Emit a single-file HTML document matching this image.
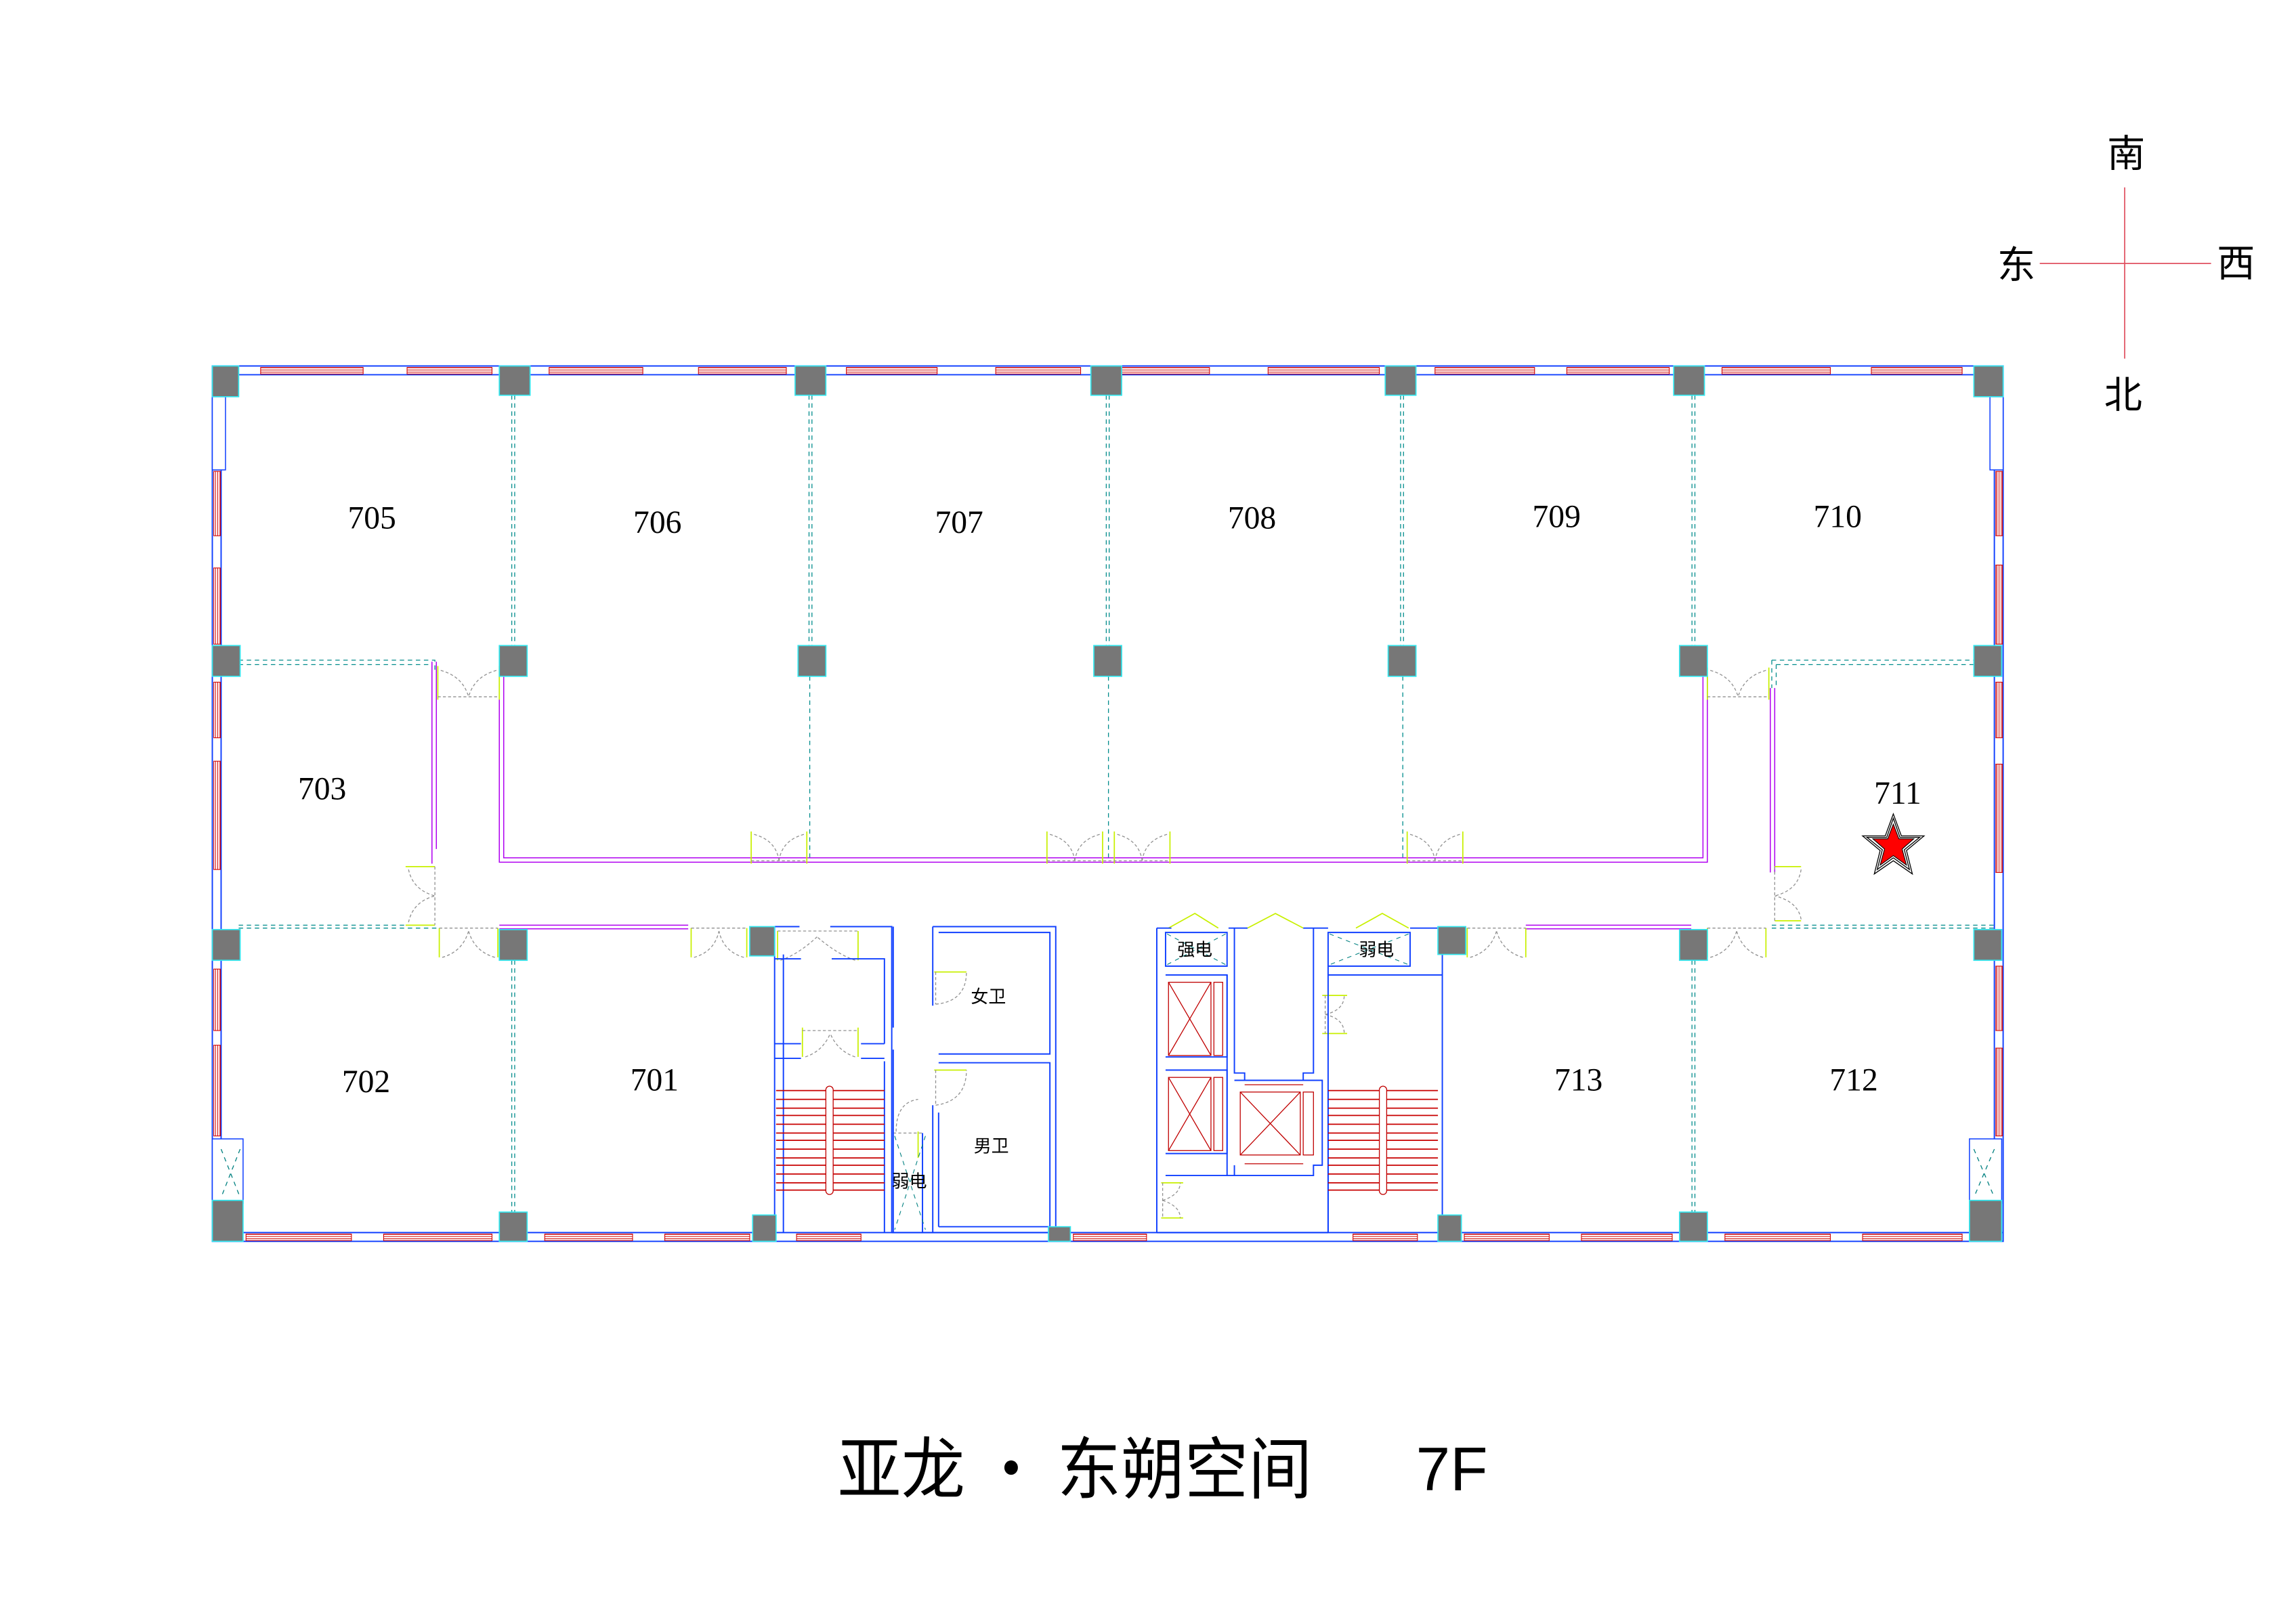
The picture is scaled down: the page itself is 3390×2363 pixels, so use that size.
<!DOCTYPE html>
<html><head><meta charset="utf-8"><style>
html,body{margin:0;padding:0;background:#fff;}
svg{display:block;}
</style></head><body>
<svg xmlns="http://www.w3.org/2000/svg" width="3390" height="2363" viewBox="0 0 1568 1093" preserveAspectRatio="none">
<rect width="1568" height="1093" fill="#fff"/>
<defs>
<pattern id="wh" width="4" height="1.5" patternUnits="userSpaceOnUse" y="251"><rect width="4" height="0.45" fill="#d00000"/></pattern>
<pattern id="wb" width="4" height="1.5" patternUnits="userSpaceOnUse" y="843"><rect width="4" height="0.45" fill="#d00000"/></pattern>
<pattern id="wv" width="1.5" height="4" patternUnits="userSpaceOnUse"><rect width="0.45" height="4" fill="#d00000"/></pattern>
</defs>
<!-- compass -->
<g stroke="#e05060" stroke-width="0.8">
<line x1="1451" y1="128" x2="1451" y2="245"/><line x1="1393" y1="180" x2="1510" y2="180"/>
</g>
<g font-family="'Noto Sans CJK SC',sans-serif" font-size="26" text-anchor="middle" fill="#000">
<text x="1452" y="114">南</text><text x="1377" y="190">东</text><text x="1527" y="189">西</text><text x="1450" y="279">北</text>
</g>
<!-- outer walls -->
<g fill="none" stroke="#1040ff" stroke-width="0.9">
<rect x="145" y="250" width="1223" height="598"/>
<line x1="145" y1="256" x2="1368" y2="256"/>
<line x1="145" y1="842" x2="1368" y2="842"/>
<line x1="151" y1="250" x2="151" y2="848"/>
<line x1="1362" y1="250" x2="1362" y2="848"/>
</g>
<!-- windows -->
<g fill="url(#wh)" stroke="#d00000" stroke-width="0.5">
<rect x="178" y="251" width="70" height="4.5"/><rect x="278" y="251" width="58" height="4.5"/>
<rect x="375" y="251" width="64" height="4.5"/><rect x="477" y="251" width="60" height="4.5"/>
<rect x="578" y="251" width="62" height="4.5"/><rect x="680" y="251" width="58" height="4.5"/>
<rect x="766" y="251" width="60" height="4.5"/><rect x="866" y="251" width="76" height="4.5"/>
<rect x="980" y="251" width="68" height="4.5"/><rect x="1070" y="251" width="70" height="4.5"/>
<rect x="1176" y="251" width="74" height="4.5"/><rect x="1278" y="251" width="62" height="4.5"/>
</g>
<g fill="url(#wb)" stroke="#d00000" stroke-width="0.5">
<rect x="168" y="843" width="72" height="4.5"/><rect x="262" y="843" width="74" height="4.5"/>
<rect x="372" y="843" width="60" height="4.5"/><rect x="454" y="843" width="58" height="4.5"/>
<rect x="544" y="843" width="44" height="4.5"/><rect x="733" y="843" width="50" height="4.5"/>
<rect x="924" y="843" width="44" height="4.5"/><rect x="1000" y="843" width="58" height="4.5"/>
<rect x="1080" y="843" width="62" height="4.5"/><rect x="1178" y="843" width="72" height="4.5"/>
<rect x="1272" y="843" width="68" height="4.5"/>
</g>
<g fill="url(#wv)" stroke="#d00000" stroke-width="0.5">
<rect x="146" y="322" width="4.5" height="44"/><rect x="146" y="388" width="4.5" height="52"/>
<rect x="146" y="466" width="4.5" height="38"/><rect x="146" y="520" width="4.5" height="74"/>
<rect x="146" y="662" width="4.5" height="42"/><rect x="146" y="714" width="4.5" height="62"/>
<rect x="1363" y="322" width="4.5" height="44"/><rect x="1363" y="386" width="4.5" height="54"/>
<rect x="1363" y="466" width="4.5" height="38"/><rect x="1363" y="522" width="4.5" height="74"/>
<rect x="1363" y="660" width="4.5" height="44"/><rect x="1363" y="716" width="4.5" height="60"/>
</g>
<!-- pilaster/window niches -->
<g fill="#fff" stroke="#1040ff" stroke-width="0.7">
<rect x="145" y="271" width="9" height="50"/><rect x="1359" y="271" width="9" height="50"/>
<rect x="145" y="778" width="21" height="44"/><rect x="1345" y="778" width="22" height="44"/>
</g>
<g stroke="#008080" stroke-width="0.6" stroke-dasharray="3,3" fill="none">
<path d="M151 785 L164 818 M164 785 L151 818"/><path d="M1348 785 L1362 818 M1362 785 L1348 818"/>
</g>
<!-- dashed partition lines -->
<g stroke="#008c8c" stroke-width="0.6" stroke-dasharray="3,2.5" fill="none">
<path d="M349.5 270V441M351.5 270V441M552.5 270V441M554.5 270V441M755.5 270V441M757.5 270V441M956.5 270V441M958.5 270V441M1155.5 270V441M1157.5 270V441"/>
<path d="M349.5 656V828M351.5 656V828M1155.5 656V828M1157.5 656V828"/>
<path d="M553 462V588M757 462V588M958 462V588"/>
<path d="M163 451H297V460M163 454H294"/>
<path d="M163 632H296M163 634H298"/>
<path d="M1210 451H1348M1213 454H1348V456M1210 451V470M1213 454V470"/>
<path d="M1210 632H1362M1210 634H1362"/>
</g>
<!-- corridor magenta walls -->
<g stroke="#b000f0" stroke-width="0.7" fill="none">
<path d="M341 462V589H1166V462M344 462V586H1163V462"/>
<path d="M295 452V590M298 452V580"/>
<path d="M1209 470V596M1212 470V596"/>
<path d="M341 632H470M341 634.5H470M1042 632H1155M1042 634.5H1155"/>
</g>
<!-- doors -->
<g stroke="#c8f000" stroke-width="0.8" fill="none">
<path d="M299 455V478M341 455V478M1166 456V478M1208 456V478"/>
<path d="M513 568V590M551 568V590M715 568V590M753 568V590M761 568V590M799 568V590M961 568V590M999 568V590"/>
<path d="M277 592H297M277 632H297M1212 592H1230M1212 629H1230"/>
<path d="M300 634V654M340 634V654M472 634V654M510 634V654M1002 634V654M1042 634V654M1166 634V654M1206 634V654"/>
<path d="M531 636V656M586 636V656M548 702V722M586 702V722M638 664H660M638 731H660M627 773V791M903 680H920M903 706H920M793 808H808M793 832H808"/>
<path d="M798 634L816 624L832 634M852 634L871 624L890 634M926 634L944 624L962 634"/>
</g>
<g stroke="#909090" stroke-width="0.6" fill="none" stroke-dasharray="2,1.5">
<path d="M299 476H341M301 458Q316 462 320 476M339 458Q324 462 320 476"/>
<path d="M1166 476H1208M1168 458Q1183 462 1187 476M1206 458Q1191 462 1187 476"/>
<path d="M513 588H551M515 570Q530 574 532 588M549 570Q534 574 532 588"/>
<path d="M715 588H799M717 570Q732 574 734 588M751 570Q736 574 734 588M763 570Q778 574 780 588M797 570Q782 574 780 588"/>
<path d="M961 588H999M963 570Q978 574 980 588M997 570Q982 574 980 588"/>
<path d="M297 592V632M279 594Q282 608 297 612M279 630Q282 616 297 612"/>
<path d="M1212 592V630M1230 594Q1228 608 1212 612M1230 628Q1228 616 1212 612"/>
<path d="M300 634H340M302 654Q316 650 320 636M338 654Q324 650 320 636"/>
<path d="M472 634H510M474 654Q488 650 491 636M508 654Q494 650 491 636"/>
<path d="M1002 634H1042M1004 654Q1018 650 1022 636M1040 654Q1026 650 1022 636"/>
<path d="M1166 634H1206M1168 654Q1182 650 1186 636M1204 654Q1190 650 1186 636"/>
<path d="M531 636H586M533 656Q545 652 558 640M584 656Q572 652 558 640"/>
<path d="M548 704H586M550 722Q562 718 567 706M584 722Q572 718 567 706"/>
<path d="M639 664V686M639 686Q660 684 660 664M639 731V755M639 755Q660 752 660 731"/>
<path d="M610 774H630M612 773Q612 753 627 751"/>
<path d="M905 680V706M905 693Q918 690 918 680M905 693Q918 696 918 706"/>
<path d="M794 808V832M794 820Q806 816 806 808M794 820Q806 824 806 832"/>
</g>
<!-- cores -->
<g fill="none" stroke="#1040ff" stroke-width="0.9">
<path d="M529 633V842M535 652V842"/>
<path d="M529 633H546M567 633H609V842M568 655H604V713M604 725V842"/>
<path d="M529 655H547M529 713H547M529 723H547M588 713H604M588 723H604"/>
<path d="M610 633V702M610 717V842"/>
<path d="M637 633H721V842M637 633V687M637 755V842M641 637H717V720H641M641 726H717V838H641M641 760V838"/>
<path d="M609 842H721"/>
<path d="M630 774V842"/>
<path d="M790 634H800M839 634H852M890 634H907M963 634H985V842"/>
<path d="M790 634V842M796 637H838V660H796Z"/>
<path d="M796 666H838V722H796M796 731H838V788H796"/>
<path d="M790 842H907M907 842V648M907 637H963V660H907Z"/>
<path d="M843 634V733H850V738M890 738V733H897V634M843 738H903V796H897V803H843V796"/>
<path d="M838 666V803M796 803H843"/>
<path d="M907 666H985M907 745V842"/>
</g>
<g stroke="#c00000" stroke-width="0.6" fill="none">
<rect x="798" y="671" width="29" height="50"/><rect x="829" y="671" width="6" height="50"/>
<path d="M798 671L827 721M827 671L798 721"/>
<rect x="798" y="736" width="29" height="50"/><rect x="829" y="736" width="6" height="50"/>
<path d="M798 736L827 786M827 736L798 786"/>
<rect x="847" y="746" width="41" height="43"/><rect x="890" y="746" width="7" height="43"/>
<path d="M847 746L888 789M888 746L847 789"/>
<path d="M850 741H890M850 795H890"/>
</g>
<g stroke="#c80000" stroke-width="0.8">
<path d="M530 745H604M530 751H604M530 757H604M530 762H604M530 768H604M530 774H604M530 779H604M530 785H604M530 791H604M530 796H604M530 802H604M530 808H604M530 813H604"/>
<path d="M907 745H982M907 751H982M907 757H982M907 762H982M907 768H982M907 774H982M907 779H982M907 785H982M907 791H982M907 796H982M907 802H982M907 808H982M907 813H982"/>
</g>
<rect x="564" y="742" width="5" height="74" rx="2.5" fill="#fff" stroke="#c00000" stroke-width="0.6"/>
<rect x="942" y="742" width="5" height="74" rx="2.5" fill="#fff" stroke="#c00000" stroke-width="0.6"/>
<g stroke="#008080" stroke-width="0.5" stroke-dasharray="3,3">
<path d="M611 776L632 840M632 776L611 840"/>
<path d="M797 638L837 659M837 638L797 659M908 638L962 659M962 638L908 659"/>
</g>
<!-- columns -->
<g fill="#777" stroke="#33e6ee" stroke-width="0.8">
<rect x="145" y="250" width="18" height="21"/><rect x="341" y="250" width="21" height="20"/><rect x="543" y="250" width="21" height="20"/><rect x="745" y="250" width="21" height="20"/><rect x="946" y="250" width="21" height="20"/><rect x="1143" y="250" width="21" height="20"/><rect x="1348" y="250" width="20" height="21"/>
<rect x="145" y="441" width="19" height="21"/><rect x="341" y="441" width="19" height="21"/><rect x="545" y="441" width="19" height="21"/><rect x="747" y="441" width="19" height="21"/><rect x="948" y="441" width="19" height="21"/><rect x="1147" y="441" width="19" height="21"/><rect x="1348" y="441" width="19" height="21"/>
<rect x="145" y="635" width="19" height="21"/><rect x="341" y="635" width="19" height="21"/><rect x="512" y="633" width="17" height="20"/><rect x="982" y="633" width="19" height="19"/><rect x="1147" y="635" width="19" height="21"/><rect x="1348" y="635" width="19" height="21"/>
<rect x="145" y="820" width="21" height="28"/><rect x="341" y="828" width="19" height="20"/><rect x="514" y="830" width="16" height="18"/><rect x="716" y="838" width="15" height="10"/><rect x="982" y="830" width="16" height="18"/><rect x="1147" y="828" width="19" height="20"/><rect x="1345" y="820" width="22" height="28"/>
</g>
<!-- room labels -->
<g font-family="'Liberation Serif',serif" font-size="22" text-anchor="middle" fill="#000">
<text x="254" y="361">705</text><text x="449" y="364">706</text><text x="655" y="364">707</text><text x="855" y="361">708</text><text x="1063" y="360">709</text><text x="1255" y="360">710</text>
<text x="220" y="546">703</text><text x="1296" y="549">711</text>
<text x="250" y="746">702</text><text x="447" y="745">701</text><text x="1078" y="745">713</text><text x="1266" y="745">712</text>
</g>
<g font-family="'Noto Sans CJK SC',sans-serif" text-anchor="middle" fill="#000">
<text x="675" y="685" font-size="12">女卫</text><text x="677" y="787" font-size="12">男卫</text>
<text x="621" y="811" font-size="12">弱电</text>
<text x="816" y="653" font-size="12">强电</text><text x="940" y="653" font-size="12">弱电</text>
</g>
<!-- star -->
<g transform="translate(1293,578)">
<polygon points="0,-22 5.5,-7 21,-7 9,3 13,19 0,10 -13,19 -9,3 -21,-7 -5.5,-7" fill="none" stroke="#000" stroke-width="0.6"/>
<polygon points="0,-19 4.5,-6 18,-6 7.5,2.5 11,16 0,8 -11,16 -7.5,2.5 -18,-6 -4.5,-6" fill="none" stroke="#000" stroke-width="0.6"/>
<polygon points="0,-15 3.8,-5 14,-5 6,2 9,13 0,6.5 -9,13 -6,2 -14,-5 -3.8,-5" fill="#ff0000" stroke="#000" stroke-width="0.5"/>
</g>
<!-- title -->
<text x="572" y="1020" font-family="'Noto Sans CJK SC',sans-serif" font-size="46" fill="#000" textLength="324" lengthAdjust="spacingAndGlyphs">亚龙 · 东朔空间</text>
<text x="967" y="1018" font-family="'Liberation Sans','DejaVu Sans',sans-serif" font-size="42" fill="#000">7F</text>
</svg>
</body></html>
